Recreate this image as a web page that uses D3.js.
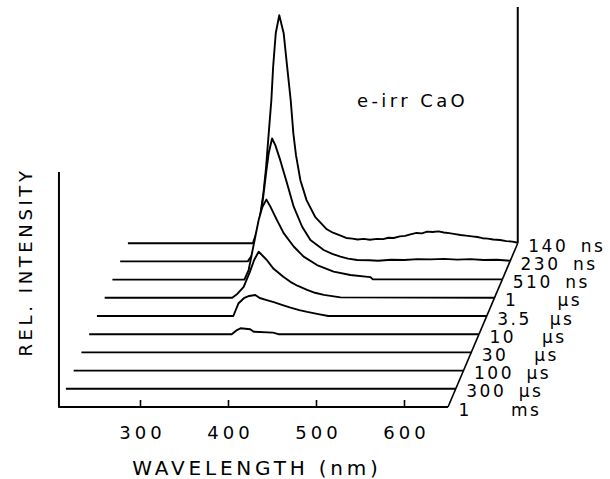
<!DOCTYPE html>
<html><head><meta charset="utf-8">
<script src="https://cdn.jsdelivr.net/npm/d3@7"></script>
<style>body{margin:0;background:#fff}svg{display:block}</style>
</head><body>
<svg id="c" width="610" height="479"></svg>
<script>
// Delay labels, back (earliest) to front (latest)
const delayNumbers = ["140","230","510","1","3.5","10","30","100","300","1"];
const delayUnits   = ["ns","ns","ns","µs","µs","µs","µs","µs","µs","ms"];
const wavelengthTicks = [300,400,500,600];
const wavelengthRange = [207,650];

// spectra: [wavelength nm, relative intensity]
const s140ns = [[207,0],[349,0],[353,4.4],[357,11.4],[361,21.9],[364,33.3],[367,48.2],[370,62.7],[372,77.2],[375,92.1],[379,100],[384,92.1],[388,77.2],[392,62.7],[395,48.2],[398,38.6],[403,27.6],[410,18.9],[420,11.4],[433,6.1],[440,4.6],[448,3.4],[455,2.3],[462,2.0],[468,1.6],[475,1.9],[482,1.5],[490,1.9],[497,1.8],[503,2.4],[509,2.3],[516,3.0],[522,3.2],[528,3.9],[535,4.5],[541,4.3],[547,5.1],[553,4.9],[560,5.2],[566,4.7],[572,4.4],[579,4.0],[585,3.6],[591,3.3],[598,3.0],[604,2.7],[610,2.2],[616,2.0],[622,1.6],[630,1.4],[637,0.9],[644,0.7],[650,0.2]];
const s230ns = [[207,0],[352,0],[356,2.2],[360,6.6],[365,15.4],[369.4,27.8],[371,32.8],[373.2,39.9],[375.8,47.4],[379.6,53.9],[383.4,50.9],[389,44.3],[396.7,34.2],[404.2,24.0],[413.8,15.2],[423.2,9.4],[438.3,5.0],[448,3.3],[457.3,2.1],[466,1.2],[476.3,0.6],[490,0.5],[500,0.3],[515,0.7],[530,0.6],[545,1.0],[560,0.9],[575,1.1],[590,0.8],[605,1.0],[620,0.6],[635,0.7],[650,0.3]];
const s510ns = [[207,0],[357,0],[361.8,4.2],[365.7,11.7],[369.4,18.9],[373.2,26.1],[377.4,31.8],[381.9,35.1],[386.5,32.0],[394,26.1],[401.6,20.4],[413,14.5],[424.3,10.1],[439.5,6.4],[458.4,3.5],[477.4,2.0],[500,1.1],[503,0.1],[650,0.1]];
const s1us   = [[207,0],[352,0],[358,1.8],[365,4.8],[372,11.4],[377,16.7],[382,20.2],[391,16.7],[399,12.7],[410,9.2],[418,7.0],[426,5.3],[437,3.5],[446,2.2],[456,1.3],[475,0.2],[650,0]];
const s3_5us = [[207,0],[362,0],[368,5.6],[374,7.8],[380,8.8],[387,9.2],[392,7.9],[400,7.0],[408,6.1],[418,4.8],[427,3.7],[437,2.6],[446,1.8],[460,0.7],[470,0],[650,0]];
const s10us  = [[207,0],[369,0],[375,1.8],[379,2.6],[390,2.2],[394,1.1],[416,0.7],[422,0],[650,0]];
const s30us  = [[207,0],[650,0]];
const s100us = [[207,0],[650,0]];
const s300us = [[207,0],[650,0]];
const s1ms   = [[207,0],[650,0]];
const spectra = [s140ns,s230ns,s510ns,s1us,s3_5us,s10us,s30us,s100us,s300us,s1ms];

const svg = d3.select("#c");
const FONT = "DejaVu Sans";
const x = d3.scaleLinear().domain([300,600]).range([140,404]);
const h = d3.scaleLinear().domain([0,100]).range([0,228]);
const idx = d3.range(spectra.length); // 0 = back
const depthX = d3.scaleLinear().domain([spectra.length-1,0]).range([0,69.75]);
const baseY = d3.scaleLinear().domain([spectra.length-1,0]).range([407,243.2]);

// back right vertical edge
svg.append("line").attr("x1",x(650)+depthX(0)).attr("x2",x(650)+depthX(0))
  .attr("y1",baseY(0)).attr("y2",7).attr("stroke","#000").attr("stroke-width",2);
// left vertical axis
svg.append("line").attr("x1",x(wavelengthRange[0])+0.8).attr("x2",x(wavelengthRange[0])+0.8)
  .attr("y1",172).attr("y2",407).attr("stroke","#000").attr("stroke-width",2);
// slanted right edge
svg.append("line").attr("x1",x(650)+depthX(spectra.length-1)).attr("y1",baseY(spectra.length-1))
  .attr("x2",x(650)+depthX(0)).attr("y2",baseY(0)).attr("stroke","#000").attr("stroke-width",1.6);

// traces back to front with hidden-line fill
idx.forEach(i => {
  const dx = depthX(i), by = baseY(i);
  const line = d3.line().x(d=>x(d[0])+dx).y(d=>by-h(d[1]));
  const area = d3.area().x(d=>x(d[0])+dx).y0(by).y1(d=>by-h(d[1]));
  svg.append("path").datum(spectra[i]).attr("d",area).attr("fill","#fff");
  svg.append("path").datum(spectra[i]).attr("d",line).attr("fill","none")
    .attr("stroke","#000").attr("stroke-width",1.9).attr("stroke-linejoin","round");
  const ex = x(650)+dx;
  svg.append("text").attr("x",ex+10.5).attr("y",by+2.5).attr("dy","0.36em")
    .attr("font-family",FONT).attr("font-size",17).attr("letter-spacing",2.5).text(delayNumbers[i]);
  svg.append("text").attr("x",ex+63).attr("y",by+2.5).attr("dy","0.36em")
    .attr("font-family",FONT).attr("font-size",17).attr("letter-spacing",2.5).text(delayUnits[i]);
});

// bottom axis ticks
const ax = svg.append("g").attr("transform","translate(0,407)")
  .call(d3.axisBottom(x).tickValues(wavelengthTicks).tickSize(-7).tickPadding(19).tickFormat(d3.format("d")));
ax.select(".domain").remove();
ax.selectAll("line").attr("stroke","#000").attr("stroke-width",1.6);
ax.selectAll("text").attr("font-family",FONT).attr("font-size",18).attr("fill","#000")
  .attr("letter-spacing",4).attr("dx",2);

svg.append("text").attr("x",257).attr("y",475).attr("text-anchor","middle")
  .attr("font-family",FONT).attr("font-size",20).attr("letter-spacing",3.8).text("WAVELENGTH (nm)");
svg.append("text").attr("transform","translate(32,262) rotate(-90)").attr("text-anchor","middle")
  .attr("font-family",FONT).attr("font-size",18).attr("letter-spacing",3.6).text("REL. INTENSITY");
svg.append("text").attr("x",357).attr("y",107).attr("font-family",FONT).attr("font-size",18)
  .attr("letter-spacing",3.4).text("e-irr CaO");
</script>
</body></html>
